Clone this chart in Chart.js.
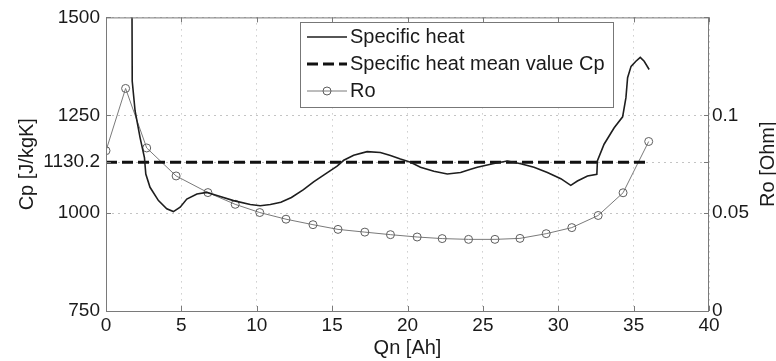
<!DOCTYPE html>
<html>
<head>
<meta charset="utf-8">
<script src="https://cdn.jsdelivr.net/npm/chart.js@4"></script>
<style>
  body { margin: 0; background: #fff; }
  #wrap { width: 776px; height: 361px; }
</style>
</head>
<body>
<div id="wrap"><canvas id="cpChart"></canvas></div>
<script>
// Specific heat curve (Qn [Ah] -> Cp [J/kgK])
const qnCp = [1.70, 1.74, 1.93, 2.26, 2.55, 2.64, 2.92, 3.48, 4.03, 4.47, 4.92, 5.36, 6.03, 6.69, 7.36,
  8.46, 9.57, 10.23, 10.9, 11.6, 12.3, 13.1, 13.77, 14.66, 15.33, 15.77, 16.43, 17.32, 18.2, 18.87,
  19.53, 20.2, 20.86, 21.75, 22.64, 23.52, 24.19, 24.63, 25.73, 26.62, 27.51, 28.39, 29.28, 30.17,
  30.83, 31.27, 31.94, 32.56, 32.6, 33.04, 33.71, 34.27, 34.49, 34.6, 34.83, 35.15, 35.44, 35.7, 36.03];
const cpValues = [1800, 1337, 1261, 1193, 1142, 1100, 1066, 1032, 1011, 1004, 1015, 1036, 1049, 1053, 1045,
  1032, 1022, 1019, 1022, 1028, 1040, 1060, 1080, 1103, 1120, 1135, 1148, 1157, 1155, 1147,
  1138, 1130, 1117, 1107, 1100, 1104, 1112, 1117, 1127, 1133, 1126, 1117, 1104, 1088,
  1071, 1082, 1095, 1099, 1134, 1176, 1218, 1246, 1295, 1346, 1375, 1388, 1398, 1388, 1367];

// mean value line
const qnMean = [0, 36];
const cpMean = 1130.2;

// internal resistance Ro [Ohm]
const qnRo = [0, 1.3, 2.7, 4.65, 6.76, 8.57, 10.2, 11.94, 13.73, 15.39, 17.17, 18.87, 20.64, 22.3,
  24.05, 25.8, 27.46, 29.2, 30.9, 32.65, 34.3, 36.0];
const roValues = [0.0819, 0.1137, 0.0833, 0.0690, 0.0605, 0.0545, 0.0503, 0.0469, 0.0441, 0.0417, 0.0403,
  0.0390, 0.0378, 0.0370, 0.0366, 0.0366, 0.0371, 0.0395, 0.0426, 0.0488, 0.0604, 0.0866];

const cpTicks = [750, 1000, 1130.2, 1250, 1500];
const roTicks = [0, 0.05, 0.1];
const xTicks = [0, 5, 10, 15, 20, 25, 30, 35, 40];

const FONT = "'Liberation Sans', Arial, sans-serif";
const TEXT = '#1a1a1a';

const boxAndLegend = {
  id: 'boxAndLegend',
  afterDatasetsDraw(chart) {
    const { ctx, chartArea: a, scales } = chart;
    ctx.save();
    // axes box
    ctx.strokeStyle = '#7a7a7a';
    ctx.lineWidth = 1;
    ctx.strokeRect(a.left + 0.5, a.top + 0.5, a.right - a.left - 1, a.bottom - a.top);
    // inward tick marks
    ctx.beginPath();
    scales.x.ticks.forEach(t => {
      const px = Math.round(scales.x.getPixelForValue(t.value)) + 0.5;
      ctx.moveTo(px, a.bottom); ctx.lineTo(px, a.bottom - 5);
      ctx.moveTo(px, a.top); ctx.lineTo(px, a.top + 5);
    });
    scales.y.ticks.forEach(t => {
      const py = Math.round(scales.y.getPixelForValue(t.value)) + 0.5;
      ctx.moveTo(a.left, py); ctx.lineTo(a.left + 5, py);
      ctx.moveTo(a.right, py); ctx.lineTo(a.right - 5, py);
    });
    scales.y1.ticks.forEach(t => {
      const py = Math.round(scales.y1.getPixelForValue(t.value)) + 0.5;
      ctx.moveTo(a.right, py); ctx.lineTo(a.right - 5, py);
    });
    ctx.stroke();

    // legend
    const lx = 300, ly = 22, lw = 313, lh = 85;
    ctx.fillStyle = '#fff';
    ctx.fillRect(lx, ly, lw, lh);
    ctx.strokeStyle = '#777';
    ctx.strokeRect(lx + 0.5, ly + 0.5, lw, lh);
    const rows = [37, 64, 91];
    chart.data.datasets.forEach((ds, i) => {
      const y = rows[i];
      ctx.beginPath();
      ctx.strokeStyle = ds.borderColor;
      ctx.lineWidth = ds.borderWidth;
      ctx.setLineDash(ds.borderDash || []);
      ctx.moveTo(307, y); ctx.lineTo(347, y);
      ctx.stroke();
      ctx.setLineDash([]);
      if (ds.pointRadius) {
        ctx.beginPath();
        ctx.lineWidth = 1;
        ctx.strokeStyle = ds.pointBorderColor;
        ctx.arc(327, y, ds.pointRadius, 0, Math.PI * 2);
        ctx.stroke();
      }
      ctx.fillStyle = TEXT;
      ctx.font = '20px ' + FONT;
      ctx.textBaseline = 'middle';
      ctx.textAlign = 'left';
      ctx.fillText(ds.label, 350, y);
    });
    ctx.restore();
  },
  afterDraw(chart) {
    const { ctx, chartArea: a } = chart;
    ctx.save();
    ctx.translate(768, (a.top + a.bottom) / 2);
    ctx.rotate(-Math.PI / 2);
    ctx.fillStyle = TEXT;
    ctx.font = '20px ' + FONT;
    ctx.textAlign = 'center';
    ctx.textBaseline = 'middle';
    ctx.fillText('Ro [Ohm]', 0, 0);
    ctx.restore();
  }
};

const ctx = document.getElementById('cpChart').getContext('2d');
const myChart = new Chart(ctx, {
  type: 'line',
  data: {
    datasets: [{
      label: 'Specific heat',
      data: qnCp.map((q, i) => ({ x: q, y: cpValues[i] })),
      borderColor: '#1e1e1e',
      borderWidth: 1.6,
      pointRadius: 0,
      tension: 0,
      yAxisID: 'y'
    }, {
      label: 'Specific heat mean value Cp',
      data: qnMean.map(q => ({ x: q, y: cpMean })),
      borderColor: '#111',
      borderWidth: 3,
      borderDash: [11, 5],
      pointRadius: 0,
      yAxisID: 'y'
    }, {
      label: 'Ro',
      data: qnRo.map((q, i) => ({ x: q, y: roValues[i] })),
      borderColor: '#7a7a7a',
      borderWidth: 1,
      pointRadius: 4,
      pointBorderColor: '#5e5e5e',
      pointBackgroundColor: 'rgba(255,255,255,0)',
      pointBorderWidth: 1,
      yAxisID: 'y1'
    }]
  },
  options: {
    responsive: true,
    maintainAspectRatio: false,
    animation: false,
    layout: { padding: { top: 16, left: 0, right: 0, bottom: 0 } },
    plugins: { legend: { display: false }, tooltip: { enabled: false } },
    scales: {
      x: {
        type: 'linear',
        min: 0,
        max: 40,
        afterBuildTicks: s => { s.ticks = xTicks.map(v => ({ value: v })); },
        afterFit: s => { s.height = 50; },
        ticks: { color: TEXT, font: { family: FONT, size: 19 }, padding: 3, maxRotation: 0 },
        grid: { color: '#b4b4b4', drawTicks: false },
        border: { display: false, dash: [1, 5] },
        title: { display: true, text: 'Qn [Ah]', color: TEXT, font: { family: FONT, size: 20 }, padding: { top: 0, bottom: 1 } }
      },
      y: {
        position: 'left',
        min: 750,
        max: 1500,
        afterBuildTicks: s => { s.ticks = cpTicks.map(v => ({ value: v })); },
        afterFit: s => { s.width = 106; },
        ticks: { color: TEXT, font: { family: FONT, size: 19 }, padding: 6, callback: v => String(v) },
        grid: { color: '#c4c4c4', drawTicks: false },
        border: { display: false, dash: [2, 4] },
        title: { display: true, text: 'Cp [J/kgK]', color: TEXT, font: { family: FONT, size: 20 }, padding: { top: 15, bottom: 0 } }
      },
      y1: {
        position: 'right',
        min: 0,
        max: 0.15,
        afterBuildTicks: s => { s.ticks = roTicks.map(v => ({ value: v })); },
        afterFit: s => { s.width = 67; },
        ticks: { color: TEXT, font: { family: FONT, size: 19 }, padding: 3, callback: v => String(v) },
        grid: { display: false, drawTicks: false },
        border: { display: false }
      }
    }
  },
  plugins: [boxAndLegend]
});
</script>
</body>
</html>
